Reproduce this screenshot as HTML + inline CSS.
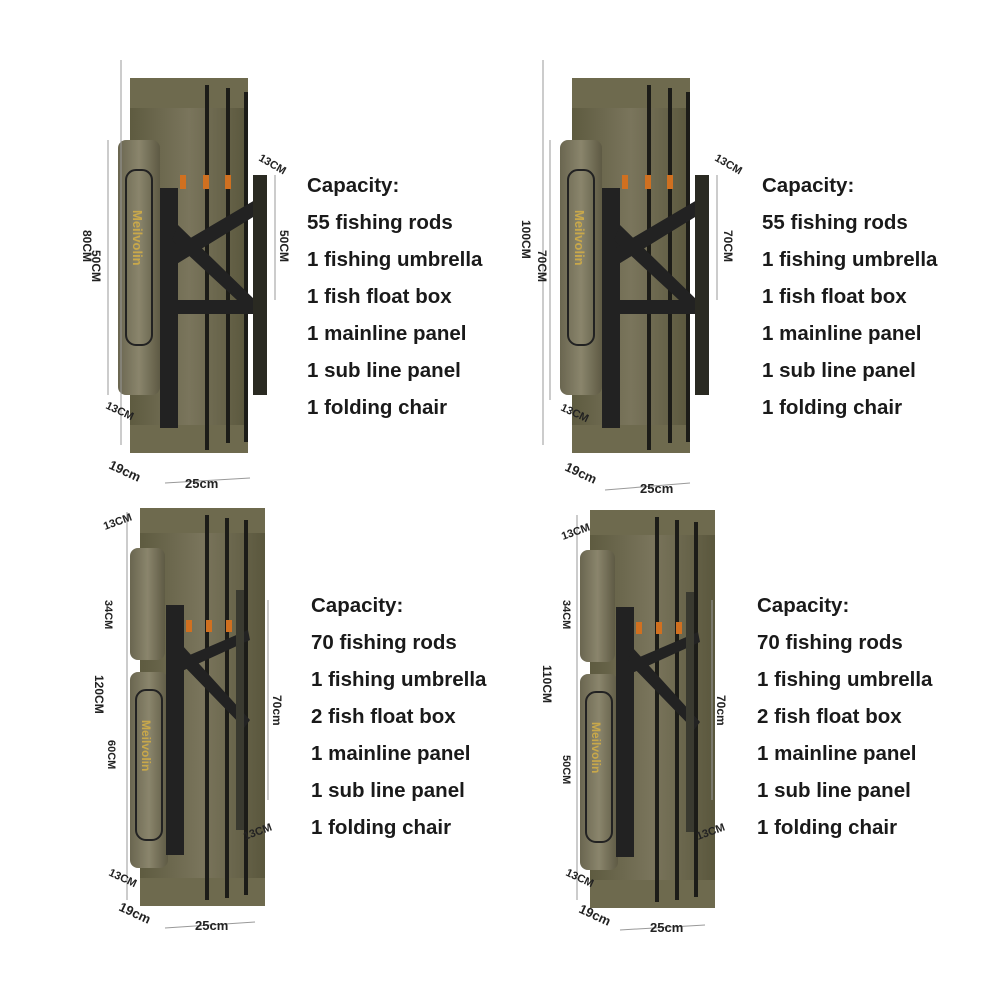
<!DOCTYPE html>
<html><head><style>
html,body{margin:0;padding:0;background:#fff;width:1002px;height:1002px;overflow:hidden}
.t{position:absolute;font-family:"Liberation Sans",sans-serif;font-weight:bold;font-size:20.5px;color:#1a1a1a;line-height:37px;white-space:nowrap}
svg{position:absolute;left:0;top:0}
</style></head><body>
<svg width="1002" height="1002" viewBox="0 0 1002 1002">
<defs>
<linearGradient id="g" x1="0" x2="1"><stop offset="0" stop-color="#5e5b40"/><stop offset=".5" stop-color="#7a755c"/><stop offset="1" stop-color="#5a573d"/></linearGradient>
<linearGradient id="p" x1="0" x2="1"><stop offset="0" stop-color="#6a6650"/><stop offset=".5" stop-color="#8a856c"/><stop offset="1" stop-color="#5e5a44"/></linearGradient>
<g id="bagA">
<rect x="130" y="78" width="118" height="375" rx="8" fill="url(#g)"/>
<rect x="130" y="78" width="118" height="30" fill="#6e6a4e"/>
<rect x="130" y="425" width="118" height="28" fill="#6e6a4e"/>
<rect x="205" y="85" width="4" height="365" fill="#1c1c18"/>
<rect x="226" y="88" width="4" height="355" fill="#1c1c18"/>
<rect x="244" y="92" width="4" height="350" fill="#1c1c18"/>
<rect x="118" y="140" width="42" height="255" rx="8" fill="url(#p)"/>
<rect x="126" y="170" width="26" height="175" rx="10" fill="none" stroke="#222" stroke-width="2"/>
<text x="0" y="0" transform="translate(133,210) rotate(90)" font-family="Liberation Sans,sans-serif" font-weight="bold" font-size="13" fill="#c9a84a">Meilvolin</text>
<rect x="160" y="188" width="18" height="240" fill="#222"/>
<path d="M170 250 L255 200 L258 214 L175 265Z M178 225 L255 300 L250 312 L172 240Z" fill="#222"/>
<rect x="178" y="300" width="75" height="14" fill="#222"/>
<rect x="253" y="175" width="14" height="220" fill="#2a2a22"/>
<rect x="180" y="175" width="6" height="14" fill="#d07020"/><rect x="203" y="175" width="6" height="14" fill="#d07020"/><rect x="225" y="175" width="6" height="14" fill="#d07020"/>
</g>
<g id="bagB">
<rect x="140" y="508" width="125" height="398" rx="8" fill="url(#g)"/>
<rect x="140" y="508" width="125" height="25" fill="#6e6a4e"/>
<rect x="140" y="878" width="125" height="28" fill="#6e6a4e"/>
<rect x="205" y="515" width="4" height="385" fill="#1c1c18"/>
<rect x="225" y="518" width="4" height="380" fill="#1c1c18"/>
<rect x="244" y="520" width="4" height="375" fill="#1c1c18"/>
<rect x="130" y="548" width="35" height="112" rx="8" fill="url(#p)"/>
<rect x="130" y="672" width="38" height="196" rx="8" fill="url(#p)"/>
<rect x="136" y="690" width="26" height="150" rx="10" fill="none" stroke="#222" stroke-width="2"/>
<text x="0" y="0" transform="translate(142,720) rotate(90)" font-family="Liberation Sans,sans-serif" font-weight="bold" font-size="12" fill="#c9a84a">Meilvolin</text>
<rect x="166" y="605" width="18" height="250" fill="#222"/>
<path d="M178 660 L248 630 L250 640 L180 672Z M182 645 L250 720 L244 728 L178 660Z" fill="#222"/>
<rect x="236" y="590" width="8" height="240" fill="#3a3a30"/>
<rect x="186" y="620" width="6" height="12" fill="#d07020"/><rect x="206" y="620" width="6" height="12" fill="#d07020"/><rect x="226" y="620" width="6" height="12" fill="#d07020"/>
</g>
</defs>
<use href="#bagA"/>
<use href="#bagA" transform="translate(442,0)"/>
<use href="#bagB"/>
<use href="#bagB" transform="translate(450,2)"/>
<g stroke="#999" stroke-width="1" fill="#999">
<line x1="121" y1="60" x2="121" y2="445"/><line x1="543" y1="60" x2="543" y2="445"/>
<line x1="127" y1="512" x2="127" y2="900"/><line x1="577" y1="515" x2="577" y2="900"/>
<line x1="108" y1="140" x2="108" y2="395"/><line x1="550" y1="140" x2="550" y2="400"/>
<line x1="275" y1="175" x2="275" y2="300"/><line x1="717" y1="175" x2="717" y2="300"/>
<line x1="268" y1="600" x2="268" y2="800"/><line x1="712" y1="600" x2="712" y2="800"/>
<line x1="165" y1="483" x2="250" y2="478"/><line x1="605" y1="490" x2="690" y2="483"/>
<line x1="165" y1="928" x2="255" y2="922"/><line x1="620" y1="930" x2="705" y2="925"/>
</g>
<g font-family="Liberation Sans,sans-serif" font-weight="bold" fill="#222" font-size="12">
<text transform="translate(83,230) rotate(90)">80CM</text>
<text transform="translate(522,220) rotate(90)">100CM</text>
<text transform="translate(92,250) rotate(90)">50CM</text>
<text transform="translate(538,250) rotate(90)">70CM</text>
<text transform="translate(280,230) rotate(90)">50CM</text>
<text transform="translate(724,230) rotate(90)">70CM</text>
<text transform="translate(258,160) rotate(30)" font-size="11">13CM</text>
<text transform="translate(714,160) rotate(30)" font-size="11">13CM</text>
<text transform="translate(105,408) rotate(25)" font-size="11">13CM</text>
<text transform="translate(560,410) rotate(25)" font-size="11">13CM</text>
<text transform="translate(108,468) rotate(25)" font-size="13">19cm</text>
<text transform="translate(564,470) rotate(25)" font-size="13">19cm</text>
<text x="185" y="488" font-size="13">25cm</text><text x="640" y="493" font-size="13">25cm</text>
<text transform="translate(105,530) rotate(-20)" font-size="11">13CM</text>
<text transform="translate(563,540) rotate(-20)" font-size="11">13CM</text>
<text transform="translate(105,600) rotate(90)" font-size="11">34CM</text>
<text transform="translate(563,600) rotate(90)" font-size="11">34CM</text>
<text transform="translate(95,675) rotate(90)">120CM</text>
<text transform="translate(543,665) rotate(90)">110CM</text>
<text transform="translate(108,740) rotate(90)" font-size="11">60CM</text>
<text transform="translate(563,755) rotate(90)" font-size="11">50CM</text>
<text transform="translate(273,695) rotate(90)">70cm</text>
<text transform="translate(717,695) rotate(90)">70cm</text>
<text transform="translate(245,840) rotate(-20)" font-size="11">13CM</text>
<text transform="translate(698,840) rotate(-20)" font-size="11">13CM</text>
<text transform="translate(108,875) rotate(25)" font-size="11">13CM</text>
<text transform="translate(565,875) rotate(25)" font-size="11">13CM</text>
<text transform="translate(118,910) rotate(25)" font-size="13">19cm</text>
<text transform="translate(578,912) rotate(25)" font-size="13">19cm</text>
<text x="195" y="930" font-size="13">25cm</text><text x="650" y="932" font-size="13">25cm</text>
</g>
</svg>
<div class="t" style="left:307px;top:167px">Capacity:<br>55 fishing rods<br>1 fishing umbrella<br>1 fish float box<br>1 mainline panel<br>1 sub line panel<br>1 folding chair</div>
<div class="t" style="left:762px;top:167px">Capacity:<br>55 fishing rods<br>1 fishing umbrella<br>1 fish float box<br>1 mainline panel<br>1 sub line panel<br>1 folding chair</div>
<div class="t" style="left:311px;top:587px">Capacity:<br>70 fishing rods<br>1 fishing umbrella<br>2 fish float box<br>1 mainline panel<br>1 sub line panel<br>1 folding chair</div>
<div class="t" style="left:757px;top:587px">Capacity:<br>70 fishing rods<br>1 fishing umbrella<br>2 fish float box<br>1 mainline panel<br>1 sub line panel<br>1 folding chair</div>
</body></html>
